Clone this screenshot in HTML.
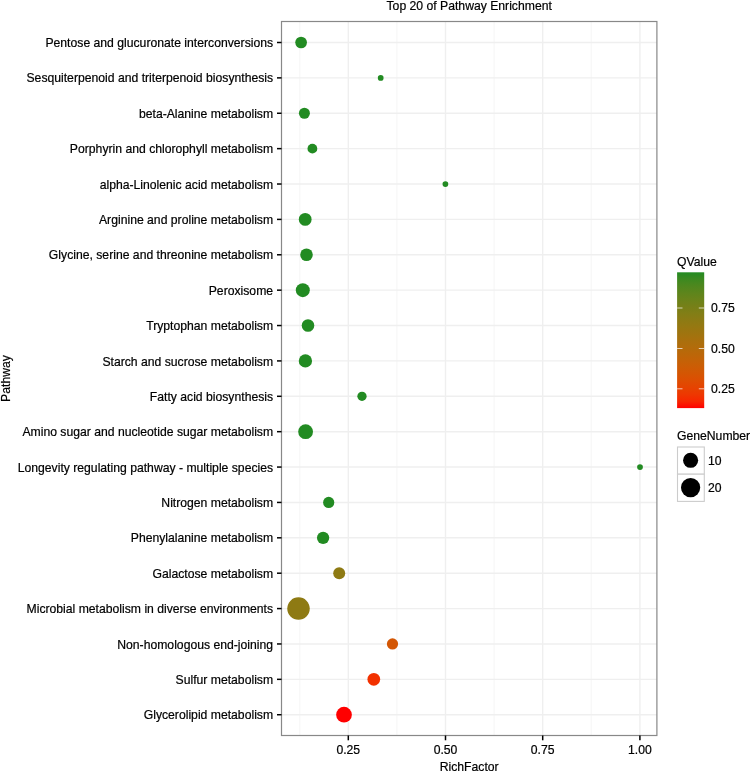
<!DOCTYPE html><html><head><meta charset="utf-8"><style>html,body{margin:0;padding:0;background:#fff;width:751px;height:772px;overflow:hidden}svg{display:block;will-change:transform}text{font-family:"Liberation Sans", sans-serif;font-size:12.20px;fill:#000;stroke:#000;stroke-width:0.2px}</style></head><body>
<svg width="751" height="772" viewBox="0 0 751 772">
<rect x="0" y="0" width="751" height="772" fill="#fff"/>
<defs><linearGradient id="qg" x1="0" y1="0" x2="0" y2="1"><stop offset="0.000" stop-color="#228b22"/><stop offset="0.050" stop-color="#3c8920"/><stop offset="0.100" stop-color="#4e871e"/><stop offset="0.150" stop-color="#5d851c"/><stop offset="0.200" stop-color="#6a831a"/><stop offset="0.250" stop-color="#768018"/><stop offset="0.300" stop-color="#817e16"/><stop offset="0.350" stop-color="#8c7b14"/><stop offset="0.400" stop-color="#967811"/><stop offset="0.450" stop-color="#9f740f"/><stop offset="0.500" stop-color="#a9700d"/><stop offset="0.550" stop-color="#b26c0b"/><stop offset="0.600" stop-color="#bb6709"/><stop offset="0.650" stop-color="#c46207"/><stop offset="0.700" stop-color="#cd5c05"/><stop offset="0.750" stop-color="#d55503"/><stop offset="0.800" stop-color="#de4d02"/><stop offset="0.850" stop-color="#e64301"/><stop offset="0.900" stop-color="#ee3701"/><stop offset="0.950" stop-color="#f72600"/><stop offset="1.000" stop-color="#ff0000"/></linearGradient></defs>
<line x1="299.70" y1="21.50" x2="299.70" y2="735.50" stroke="#f8f8f8" stroke-width="1.4"/>
<line x1="396.90" y1="21.50" x2="396.90" y2="735.50" stroke="#f8f8f8" stroke-width="1.4"/>
<line x1="494.10" y1="21.50" x2="494.10" y2="735.50" stroke="#f8f8f8" stroke-width="1.4"/>
<line x1="591.30" y1="21.50" x2="591.30" y2="735.50" stroke="#f8f8f8" stroke-width="1.4"/>
<line x1="348.30" y1="21.50" x2="348.30" y2="735.50" stroke="#efefef" stroke-width="1.4"/>
<line x1="445.50" y1="21.50" x2="445.50" y2="735.50" stroke="#efefef" stroke-width="1.4"/>
<line x1="542.70" y1="21.50" x2="542.70" y2="735.50" stroke="#efefef" stroke-width="1.4"/>
<line x1="639.90" y1="21.50" x2="639.90" y2="735.50" stroke="#efefef" stroke-width="1.4"/>
<line x1="281.50" y1="42.50" x2="656.90" y2="42.50" stroke="#efefef" stroke-width="1.4"/>
<line x1="281.50" y1="77.88" x2="656.90" y2="77.88" stroke="#efefef" stroke-width="1.4"/>
<line x1="281.50" y1="113.26" x2="656.90" y2="113.26" stroke="#efefef" stroke-width="1.4"/>
<line x1="281.50" y1="148.64" x2="656.90" y2="148.64" stroke="#efefef" stroke-width="1.4"/>
<line x1="281.50" y1="184.02" x2="656.90" y2="184.02" stroke="#efefef" stroke-width="1.4"/>
<line x1="281.50" y1="219.40" x2="656.90" y2="219.40" stroke="#efefef" stroke-width="1.4"/>
<line x1="281.50" y1="254.78" x2="656.90" y2="254.78" stroke="#efefef" stroke-width="1.4"/>
<line x1="281.50" y1="290.16" x2="656.90" y2="290.16" stroke="#efefef" stroke-width="1.4"/>
<line x1="281.50" y1="325.54" x2="656.90" y2="325.54" stroke="#efefef" stroke-width="1.4"/>
<line x1="281.50" y1="360.92" x2="656.90" y2="360.92" stroke="#efefef" stroke-width="1.4"/>
<line x1="281.50" y1="396.30" x2="656.90" y2="396.30" stroke="#efefef" stroke-width="1.4"/>
<line x1="281.50" y1="431.68" x2="656.90" y2="431.68" stroke="#efefef" stroke-width="1.4"/>
<line x1="281.50" y1="467.06" x2="656.90" y2="467.06" stroke="#efefef" stroke-width="1.4"/>
<line x1="281.50" y1="502.44" x2="656.90" y2="502.44" stroke="#efefef" stroke-width="1.4"/>
<line x1="281.50" y1="537.82" x2="656.90" y2="537.82" stroke="#efefef" stroke-width="1.4"/>
<line x1="281.50" y1="573.20" x2="656.90" y2="573.20" stroke="#efefef" stroke-width="1.4"/>
<line x1="281.50" y1="608.58" x2="656.90" y2="608.58" stroke="#efefef" stroke-width="1.4"/>
<line x1="281.50" y1="643.96" x2="656.90" y2="643.96" stroke="#efefef" stroke-width="1.4"/>
<line x1="281.50" y1="679.34" x2="656.90" y2="679.34" stroke="#efefef" stroke-width="1.4"/>
<line x1="281.50" y1="714.72" x2="656.90" y2="714.72" stroke="#efefef" stroke-width="1.4"/>
<circle cx="301.10" cy="42.50" r="5.85" fill="#228b22"/>
<circle cx="380.70" cy="77.88" r="2.88" fill="#228b22"/>
<circle cx="304.40" cy="113.26" r="5.50" fill="#228b22"/>
<circle cx="312.40" cy="148.64" r="4.90" fill="#228b22"/>
<circle cx="445.40" cy="184.02" r="2.88" fill="#228b22"/>
<circle cx="305.20" cy="219.40" r="6.40" fill="#228b22"/>
<circle cx="306.50" cy="254.78" r="6.30" fill="#228b22"/>
<circle cx="302.80" cy="290.16" r="7.00" fill="#228b22"/>
<circle cx="308.00" cy="325.54" r="6.30" fill="#228b22"/>
<circle cx="305.40" cy="360.92" r="6.65" fill="#228b22"/>
<circle cx="362.00" cy="396.30" r="4.65" fill="#228b22"/>
<circle cx="305.60" cy="431.68" r="7.40" fill="#228b22"/>
<circle cx="640.00" cy="467.06" r="2.88" fill="#228b22"/>
<circle cx="328.70" cy="502.44" r="5.60" fill="#228b22"/>
<circle cx="323.10" cy="537.82" r="6.15" fill="#228b22"/>
<circle cx="339.20" cy="573.20" r="6.00" fill="#8e7a13"/>
<circle cx="298.50" cy="608.58" r="11.25" fill="#8e7a13"/>
<circle cx="392.50" cy="643.96" r="5.60" fill="#d35604"/>
<circle cx="373.80" cy="679.34" r="6.35" fill="#f23100"/>
<circle cx="344.00" cy="714.72" r="7.85" fill="#ff0000"/>
<rect x="281.50" y="21.50" width="375.40" height="714.00" fill="none" stroke="#888888" stroke-width="1.2"/>
<line x1="277" y1="42.50" x2="281.50" y2="42.50" stroke="#000" stroke-width="1.5"/>
<text x="273.1" y="47.10" text-anchor="end">Pentose and glucuronate interconversions</text>
<line x1="277" y1="77.88" x2="281.50" y2="77.88" stroke="#000" stroke-width="1.5"/>
<text x="273.1" y="82.48" text-anchor="end">Sesquiterpenoid and triterpenoid biosynthesis</text>
<line x1="277" y1="113.26" x2="281.50" y2="113.26" stroke="#000" stroke-width="1.5"/>
<text x="273.1" y="117.86" text-anchor="end">beta-Alanine metabolism</text>
<line x1="277" y1="148.64" x2="281.50" y2="148.64" stroke="#000" stroke-width="1.5"/>
<text x="273.1" y="153.24" text-anchor="end">Porphyrin and chlorophyll metabolism</text>
<line x1="277" y1="184.02" x2="281.50" y2="184.02" stroke="#000" stroke-width="1.5"/>
<text x="273.1" y="188.62" text-anchor="end">alpha-Linolenic acid metabolism</text>
<line x1="277" y1="219.40" x2="281.50" y2="219.40" stroke="#000" stroke-width="1.5"/>
<text x="273.1" y="224.00" text-anchor="end">Arginine and proline metabolism</text>
<line x1="277" y1="254.78" x2="281.50" y2="254.78" stroke="#000" stroke-width="1.5"/>
<text x="273.1" y="259.38" text-anchor="end">Glycine, serine and threonine metabolism</text>
<line x1="277" y1="290.16" x2="281.50" y2="290.16" stroke="#000" stroke-width="1.5"/>
<text x="273.1" y="294.76" text-anchor="end">Peroxisome</text>
<line x1="277" y1="325.54" x2="281.50" y2="325.54" stroke="#000" stroke-width="1.5"/>
<text x="273.1" y="330.14" text-anchor="end">Tryptophan metabolism</text>
<line x1="277" y1="360.92" x2="281.50" y2="360.92" stroke="#000" stroke-width="1.5"/>
<text x="273.1" y="365.52" text-anchor="end">Starch and sucrose metabolism</text>
<line x1="277" y1="396.30" x2="281.50" y2="396.30" stroke="#000" stroke-width="1.5"/>
<text x="273.1" y="400.90" text-anchor="end">Fatty acid biosynthesis</text>
<line x1="277" y1="431.68" x2="281.50" y2="431.68" stroke="#000" stroke-width="1.5"/>
<text x="273.1" y="436.28" text-anchor="end">Amino sugar and nucleotide sugar metabolism</text>
<line x1="277" y1="467.06" x2="281.50" y2="467.06" stroke="#000" stroke-width="1.5"/>
<text x="273.1" y="471.66" text-anchor="end">Longevity regulating pathway - multiple species</text>
<line x1="277" y1="502.44" x2="281.50" y2="502.44" stroke="#000" stroke-width="1.5"/>
<text x="273.1" y="507.04" text-anchor="end">Nitrogen metabolism</text>
<line x1="277" y1="537.82" x2="281.50" y2="537.82" stroke="#000" stroke-width="1.5"/>
<text x="273.1" y="542.42" text-anchor="end">Phenylalanine metabolism</text>
<line x1="277" y1="573.20" x2="281.50" y2="573.20" stroke="#000" stroke-width="1.5"/>
<text x="273.1" y="577.80" text-anchor="end">Galactose metabolism</text>
<line x1="277" y1="608.58" x2="281.50" y2="608.58" stroke="#000" stroke-width="1.5"/>
<text x="273.1" y="613.18" text-anchor="end">Microbial metabolism in diverse environments</text>
<line x1="277" y1="643.96" x2="281.50" y2="643.96" stroke="#000" stroke-width="1.5"/>
<text x="273.1" y="648.56" text-anchor="end">Non-homologous end-joining</text>
<line x1="277" y1="679.34" x2="281.50" y2="679.34" stroke="#000" stroke-width="1.5"/>
<text x="273.1" y="683.94" text-anchor="end">Sulfur metabolism</text>
<line x1="277" y1="714.72" x2="281.50" y2="714.72" stroke="#000" stroke-width="1.5"/>
<text x="273.1" y="719.32" text-anchor="end">Glycerolipid metabolism</text>
<line x1="348.30" y1="735.50" x2="348.30" y2="740.3" stroke="#000" stroke-width="1.5"/>
<text x="348.30" y="753.6" text-anchor="middle">0.25</text>
<line x1="445.50" y1="735.50" x2="445.50" y2="740.3" stroke="#000" stroke-width="1.5"/>
<text x="445.50" y="753.6" text-anchor="middle">0.50</text>
<line x1="542.70" y1="735.50" x2="542.70" y2="740.3" stroke="#000" stroke-width="1.5"/>
<text x="542.70" y="753.6" text-anchor="middle">0.75</text>
<line x1="639.90" y1="735.50" x2="639.90" y2="740.3" stroke="#000" stroke-width="1.5"/>
<text x="639.90" y="753.6" text-anchor="middle">1.00</text>
<text x="469.20" y="770.5" text-anchor="middle">RichFactor</text>
<text x="469.20" y="10.1" text-anchor="middle">Top 20 of Pathway Enrichment</text>
<text transform="translate(10.3,378.50) rotate(-90)" text-anchor="middle">Pathway</text>
<text x="677.0" y="266">QValue</text>
<rect x="677.10" y="272.30" width="27.10" height="135.80" fill="url(#qg)"/>
<line x1="677.10" y1="308.00" x2="682.50" y2="308.00" stroke="#fff" stroke-opacity="0.7" stroke-width="1"/>
<line x1="698.80" y1="308.00" x2="704.20" y2="308.00" stroke="#fff" stroke-opacity="0.7" stroke-width="1"/>
<text x="711.0" y="312.30">0.75</text>
<line x1="677.10" y1="348.50" x2="682.50" y2="348.50" stroke="#fff" stroke-opacity="0.7" stroke-width="1"/>
<line x1="698.80" y1="348.50" x2="704.20" y2="348.50" stroke="#fff" stroke-opacity="0.7" stroke-width="1"/>
<text x="711.0" y="352.80">0.50</text>
<line x1="677.10" y1="388.80" x2="682.50" y2="388.80" stroke="#fff" stroke-opacity="0.7" stroke-width="1"/>
<line x1="698.80" y1="388.80" x2="704.20" y2="388.80" stroke="#fff" stroke-opacity="0.7" stroke-width="1"/>
<text x="711.0" y="393.10">0.25</text>
<text x="677.0" y="439.6">GeneNumber</text>
<rect x="677.50" y="447.00" width="26.80" height="27.2" fill="#fff" stroke="#cccccc" stroke-width="1.1"/>
<circle cx="690.6" cy="460.30" r="7.55" fill="#000"/>
<text x="707.9" y="464.60">10</text>
<rect x="677.50" y="474.20" width="26.80" height="27.2" fill="#fff" stroke="#cccccc" stroke-width="1.1"/>
<circle cx="690.6" cy="487.60" r="9.60" fill="#000"/>
<text x="707.9" y="491.90">20</text>
</svg></body></html>
